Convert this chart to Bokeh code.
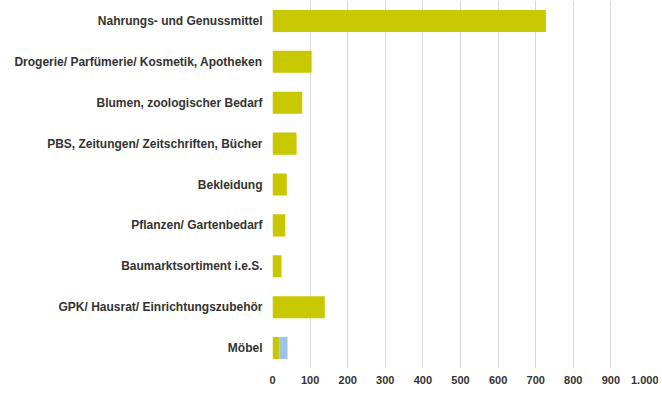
from bokeh.plotting import figure
from bokeh.models import Range1d, FactorRange, ColumnDataSource, Legend, LegendItem, FixedTicker
from bokeh.embed import file_html
from bokeh.resources import INLINE

categories = [
    "Nahrungs- und Genussmittel",
    "Drogerie/ Parfümerie/ Kosmetik, Apotheken",
    "Blumen, zoologischer Bedarf",
    "PBS, Zeitungen/ Zeitschriften, Bücher",
    "Bekleidung",
    "Pflanzen/ Gartenbedarf",
    "Baumarktsortiment i.e.S.",
    "GPK/ Hausrat/ Einrichtungszubehör",
    "Möbel",
]
wohnbebauung = [727, 104, 79, 64, 38, 34, 24, 139, 18]
nil = [0, 0, 0, 0, 0, 0, 0, 0, 22]
series_names = ["in Wohnbebauung integriert", "niL"]
colors = ["#C8C800", "#9DC3E6"]
x_ticks = [0, 100, 200, 300, 400, 500, 600, 700, 800, 900, 1000]

src = ColumnDataSource(dict(cat=categories, w=wohnbebauung, n=nil))

p = figure(
    frame_width=376, frame_height=368,
    y_range=FactorRange(factors=list(reversed(categories))),
    x_range=Range1d(0, 1000),
    output_backend="svg", toolbar_location=None,
    min_border_left=272, min_border_right=10, min_border_top=0, min_border_bottom=0,
)
p.y_range.range_padding = 0
p.outline_line_color = None

rs = p.hbar_stack(["w", "n"], y="cat", height=0.54, color=colors, source=src, line_color=None)

p.ygrid.grid_line_color = None
p.xgrid.grid_line_color = "#D9D9D9"
p.xgrid.grid_line_width = 1
p.xaxis.ticker = FixedTicker(ticks=x_ticks)
p.xaxis.major_label_overrides = {1000: "1.000"}
for ax in (p.xaxis[0], p.yaxis[0]):
    ax.axis_line_color = None
    ax.major_tick_line_color = None
    ax.minor_tick_line_color = None
    ax.major_tick_out = 0
    ax.major_tick_in = 0
    ax.minor_tick_out = 0
    ax.minor_tick_in = 0
    ax.axis_label = None
    ax.axis_label_standoff = 0
    ax.axis_label_text_font_size = "0px"
    ax.major_label_text_font = "Liberation Sans"
    ax.major_label_text_font_style = "bold"
    ax.major_label_text_color = "#333333"
p.xaxis.major_label_text_font_size = "11px"
p.xaxis.major_label_standoff = 7
p.yaxis.major_label_text_font_size = "12px"
p.yaxis.major_label_standoff = 10

legend = Legend(
    items=[LegendItem(label=series_names[i], renderers=[rs[i]]) for i in range(2)],
    orientation="horizontal", location="top_left",
    border_line_color=None, background_fill_alpha=0,
    label_text_font="Liberation Sans", label_text_font_size="11px",
    label_text_color="#333333", label_text_font_style="bold",
    glyph_width=7, glyph_height=7, label_standoff=3, spacing=14,
    padding=0, margin=0, label_height=12,
)
p.add_layout(legend, "below")

open("out.html", "w").write(file_html(p, INLINE))
